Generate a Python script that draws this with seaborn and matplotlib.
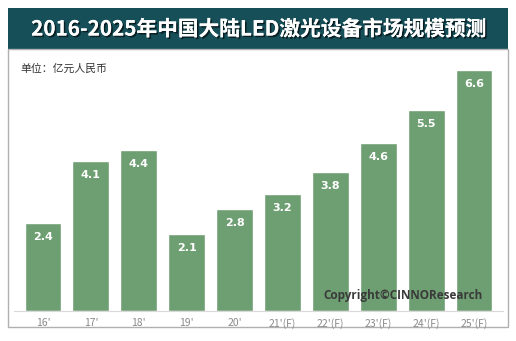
import matplotlib
matplotlib.use("Agg")
import matplotlib.pyplot as plt
import matplotlib.patheffects as pe
from matplotlib.patches import Rectangle
import seaborn as sns
import pandas as pd

categories = ["16'", "17'", "18'", "19'", "20'", "21'(F)", "22'(F)", "23'(F)", "24'(F)", "25'(F)"]
values = [2.4, 4.1, 4.4, 2.1, 2.8, 3.2, 3.8, 4.6, 5.5, 6.6]
title = "2016-2025年中国大陆LED激光设备市场规模预测"
unit = "单位：亿元人民币"
copyright_text = "Copyright©CINNOResearch"

sns.set_style("white")
plt.rcParams['font.family'] = ['Noto Sans CJK SC', 'DejaVu Sans']

W, H = 516, 341
fig = plt.figure(figsize=(W / 100, H / 100), dpi=100)
fig.patch.set_facecolor("white")

def fx(px):
    return px / W

def fy(py):
    return 1 - py / H

# banner
fig.patches.append(Rectangle((fx(8), fy(49)), fx(500), (49 - 8) / H, transform=fig.transFigure,
                             facecolor="#174f59", edgecolor="none", zorder=-2))
# panel border
fig.patches.append(Rectangle((fx(8), fy(327)), fx(500), (327 - 49) / H, transform=fig.transFigure,
                             facecolor="none", edgecolor="#b0b0b0", linewidth=1.0, zorder=-2))

fig.text(fx(258), fy(29), title, ha="center", va="center", color="white", fontsize=14.9,
         fontweight="bold",
         path_effects=[pe.withSimplePatchShadow(offset=(1.2, -1.2), shadow_rgbFace="black", alpha=0.6),
                       pe.Normal()])
fig.text(fx(20), fy(69), unit, ha="left", va="center", color="#333333", fontsize=7.8)

unit_px = 47.9
c0, c9 = 43, 474
pad = 0.6
left = c0 - pad * unit_px
right = c9 + pad * unit_px
base = 311
ymax = 6.9
ppu = 36.5
top = base - ymax * ppu
ax = fig.add_axes([fx(left), fy(base), (right - left) / W, (base - top) / H])
ax.patch.set_alpha(0)

df = pd.DataFrame({"cat": categories, "val": values})
sns.barplot(data=df, x="cat", y="val", color="#6e9f72", saturation=1, width=0.77, ax=ax)
ax.set_xlim(-pad, 9 + pad)
ax.set_ylim(0, ymax)
for p, v in zip(ax.patches, values):
    ax.annotate(f"{v:.1f}", (p.get_x() + p.get_width() / 2, p.get_height()),
                xytext=(0, -10), textcoords="offset points", ha="center", va="center",
                color="white", fontsize=8, fontweight="bold", family="DejaVu Sans")

ax.set_xlabel("")
ax.set_ylabel("")
ax.set_yticks([])
for s in ["top", "right", "left"]:
    ax.spines[s].set_visible(False)
ax.spines["bottom"].set_color("#d9d9d9")
ax.spines["bottom"].set_linewidth(0.8)
ax.tick_params(axis="x", length=0, pad=5, labelsize=7.5, labelcolor="#8a8a8a")

fig.text(fx(483), fy(295), copyright_text, ha="right", va="center", color="#3a3a3a",
         fontsize=8.5, fontweight="bold", family=["Open Sans", "DejaVu Sans"], zorder=5)

fig.savefig("out.png", dpi=100)
